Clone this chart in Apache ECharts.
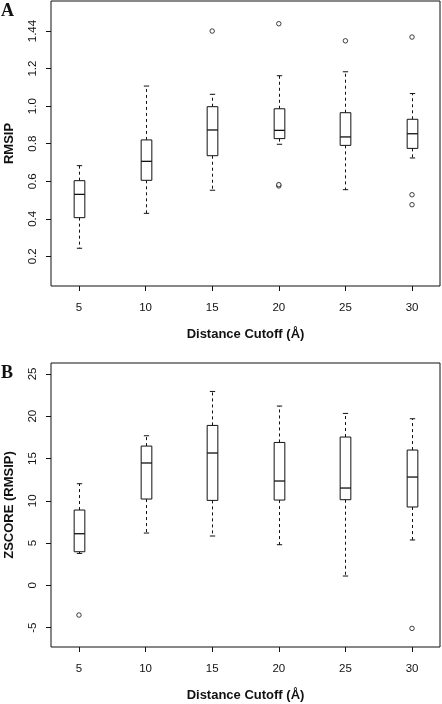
<!DOCTYPE html>
<html>
<head>
<meta charset="utf-8">
<script src="https://cdn.jsdelivr.net/npm/echarts@6/dist/echarts.min.js"></script>
<style>
html,body{margin:0;padding:0;background:#fff;}
#chart{width:442px;height:704px;}
</style>
</head>
<body>
<div id="chart"></div>
<script>
// ---- data ----
const cutoffs = ['5', '10', '15', '20', '25', '30'];

// Panel A: RMSIP
const rmsipLow  = [0.243, 0.429, 0.552, 0.797, 0.555, 0.724];
const rmsipQ1   = [0.406, 0.605, 0.736, 0.827, 0.791, 0.775];
const rmsipMed  = [0.530, 0.706, 0.873, 0.871, 0.836, 0.853];
const rmsipQ3   = [0.603, 0.820, 0.997, 0.986, 0.965, 0.930];
const rmsipHigh = [0.683, 1.107, 1.063, 1.162, 1.183, 1.067];
// [category index (1-based), value]
const rmsipOutliers = [[3, 1.400], [4, 1.439], [4, 0.575], [4, 0.582], [5, 1.348], [6, 1.368], [6, 0.528], [6, 0.475]];
const rmsipTickValues = [0.2, 0.4, 0.6, 0.8, 1.0, 1.2, 1.4];
const rmsipTickLabels = ['0.2', '0.4', '0.6', '0.8', '1.0', '1.2', '1.44'];

// Panel B: ZSCORE (RMSIP)
const zLow  = [3.78, 6.19, 5.84, 4.81, 1.11, 5.37];
const zQ1   = [3.98, 10.21, 10.05, 10.09, 10.13, 9.27];
const zMed  = [6.11, 14.47, 15.65, 12.34, 11.51, 12.81];
const zQ3   = [8.91, 16.47, 18.91, 16.90, 17.54, 16.00];
const zHigh = [12.02, 17.69, 22.93, 21.20, 20.33, 19.70];
const zOutliers = [[1, -3.5], [6, -5.08]];
const zTickValues = [-5, 0, 5, 10, 15, 20, 25];
const zTickLabels = ['-5', '0', '5', '10', '15', '20', '25'];

// ---- build ----
const INK = '#111';
const BOX_W = 0.16;

function boxRows(low, q1, med, q3, high) {
  return cutoffs.map((c, i) => [i + 1, low[i], q1[i], med[i], q3[i], high[i]]);
}

function renderBox(params, api) {
  const x = api.value(0);
  const pLow = api.coord([x, api.value(1)]);
  const pQ1 = api.coord([x, api.value(2)]);
  const pMed = api.coord([x, api.value(3)]);
  const pQ3 = api.coord([x, api.value(4)]);
  const pHigh = api.coord([x, api.value(5)]);
  const bw = api.size([BOX_W, 0])[0];
  const cx = Math.round(pLow[0]) + 0.5;
  const h = bw / 2, c = bw / 4;
  const solid = { stroke: INK, lineWidth: 1, fill: null };
  const dashed = { stroke: INK, lineWidth: 1, lineDash: [3, 3], fill: null };
  return {
    type: 'group',
    children: [
      { type: 'line', shape: { x1: cx, y1: pQ3[1], x2: cx, y2: pHigh[1] }, style: dashed },
      { type: 'line', shape: { x1: cx, y1: pQ1[1], x2: cx, y2: pLow[1] }, style: dashed },
      { type: 'line', shape: { x1: cx - c, y1: pHigh[1], x2: cx + c, y2: pHigh[1] }, style: solid },
      { type: 'line', shape: { x1: cx - c, y1: pLow[1], x2: cx + c, y2: pLow[1] }, style: solid },
      { type: 'rect', shape: { x: cx - h, y: pQ3[1], width: bw, height: pQ1[1] - pQ3[1] }, style: { stroke: INK, lineWidth: 1, fill: '#fff' } },
      { type: 'line', shape: { x1: cx - h, y1: pMed[1], x2: cx + h, y2: pMed[1] }, style: { stroke: INK, lineWidth: 1.3 } }
    ]
  };
}

const FONT = 'Liberation Sans, Arial, Helvetica, sans-serif';

function xAxisCfg(gridIndex) {
  return {
    type: 'value', gridIndex: gridIndex, min: 0.58, max: 6.42,
    splitLine: { show: false },
    axisLine: { show: false, onZero: false },
    axisTick: { show: true, customValues: [1, 2, 3, 4, 5, 6], length: 5, lineStyle: { color: INK, width: 1 } },
    axisLabel: { show: true, customValues: [1, 2, 3, 4, 5, 6], formatter: v => cutoffs[Math.round(v) - 1], margin: 16, color: INK, fontSize: 11.5, fontFamily: FONT },
    name: 'Distance Cutoff (Å)', nameLocation: 'middle', nameGap: 42,
    nameTextStyle: { color: INK, fontSize: 13, fontWeight: 'bold', fontFamily: FONT }
  };
}

function yAxisCfg(gridIndex, min, max, vals, labels, name) {
  return {
    type: 'value', gridIndex: gridIndex, min: min, max: max,
    splitLine: { show: false },
    axisLine: { show: false, onZero: false },
    axisTick: { show: true, customValues: vals, length: 5, lineStyle: { color: INK, width: 1 } },
    axisLabel: {
      show: true, customValues: vals, rotate: 90, margin: 12, color: INK, fontSize: 11.5, fontFamily: FONT,
      formatter: v => { const i = vals.findIndex(t => Math.abs(t - v) < 1e-6); return i >= 0 ? labels[i] : ''; }
    },
    name: name, nameLocation: 'middle', nameGap: 35, nameRotate: 90,
    nameTextStyle: { color: INK, fontSize: 13, fontWeight: 'bold', fontFamily: FONT }
  };
}

const chart = echarts.init(document.getElementById('chart'), null, { renderer: 'canvas' });
chart.setOption({
  animation: false,
  backgroundColor: '#fff',
  grid: [
    { left: 51, top: 1, width: 389, height: 285, show: true, borderColor: INK, borderWidth: 1, backgroundColor: 'transparent', containLabel: false, outerBoundsMode: 'none' },
    { left: 51, top: 363, width: 389, height: 284, show: true, borderColor: INK, borderWidth: 1, backgroundColor: 'transparent', containLabel: false, outerBoundsMode: 'none' }
  ],
  xAxis: [xAxisCfg(0), xAxisCfg(1)],
  yAxis: [
    yAxisCfg(0, 0.042, 1.56, rmsipTickValues, rmsipTickLabels, 'RMSIP'),
    yAxisCfg(1, -7.28, 26.29, zTickValues, zTickLabels, 'ZSCORE (RMSIP)')
  ],
  graphic: [
    { type: 'text', left: 1, top: 2, style: { text: 'A', font: 'bold 18px "Liberation Serif", "Times New Roman", serif', fill: INK } },
    { type: 'text', left: 1, top: 364, style: { text: 'B', font: 'bold 18px "Liberation Serif", "Times New Roman", serif', fill: INK } }
  ],
  series: [
    { type: 'custom', xAxisIndex: 0, yAxisIndex: 0, renderItem: renderBox, encode: { x: 0, y: [1, 2, 3, 4, 5] },
      data: boxRows(rmsipLow, rmsipQ1, rmsipMed, rmsipQ3, rmsipHigh) },
    { type: 'scatter', xAxisIndex: 0, yAxisIndex: 0, symbol: 'circle', symbolSize: 4.5,
      itemStyle: { color: '#fff', borderColor: INK, borderWidth: 1 }, data: rmsipOutliers },
    { type: 'custom', xAxisIndex: 1, yAxisIndex: 1, renderItem: renderBox, encode: { x: 0, y: [1, 2, 3, 4, 5] },
      data: boxRows(zLow, zQ1, zMed, zQ3, zHigh) },
    { type: 'scatter', xAxisIndex: 1, yAxisIndex: 1, symbol: 'circle', symbolSize: 4.5,
      itemStyle: { color: '#fff', borderColor: INK, borderWidth: 1 }, data: zOutliers }
  ]
});
</script>
</body>
</html>
